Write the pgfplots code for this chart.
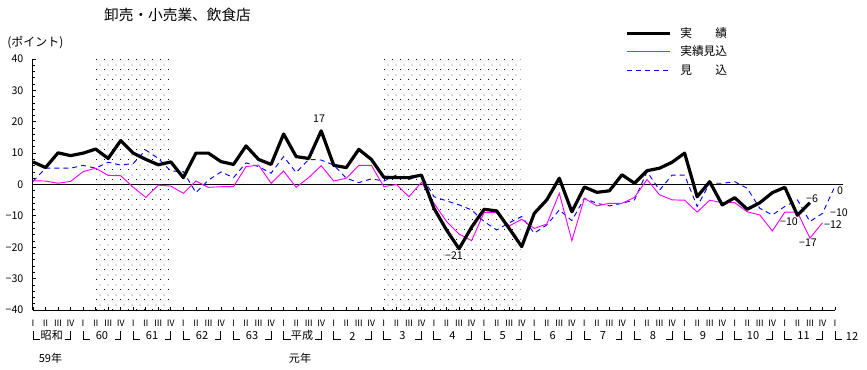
\documentclass[border=0pt]{standalone}
\usepackage{fontspec}
\setmainfont{Noto Sans CJK JP}
\usepackage{pgfplots}
\pgfplotsset{compat=1.18}
\usetikzlibrary{patterns.meta}
\tikzdeclarepattern{name=sdots, type=uncolored, bottom left={(0pt,0pt)}, top right={(6pt,7.5pt)}, tile size={(6pt,7.5pt)},
 code={\fill (0pt,0pt) rectangle (0.75pt,0.75pt); \fill (3pt,3.75pt) rectangle (3.75pt,4.5pt);}}
\definecolor{mag}{RGB}{255,0,255}
\definecolor{blu}{RGB}{0,0,255}
\begin{document}
\begin{tikzpicture}
\path[use as bounding box] (0,0) rectangle (650.25pt,-276.75pt);
\begin{axis}[
 at={(24.75pt,-232.5pt)}, anchor=south west,
 scale only axis, width=601.5pt, height=188.25pt,
 xmin=0, xmax=64, ymin=-40, ymax=40,
 axis x line=bottom, axis y line=left,
 axis line style={-, line width=0.75pt},
 clip=false,
 tick align=inside,
 xtick={0,...,64},
 xticklabels={Ⅰ,Ⅱ,Ⅲ,Ⅳ,Ⅰ,Ⅱ,Ⅲ,Ⅳ,Ⅰ,Ⅱ,Ⅲ,Ⅳ,Ⅰ,Ⅱ,Ⅲ,Ⅳ,Ⅰ,Ⅱ,Ⅲ,Ⅳ,Ⅰ,Ⅱ,Ⅲ,Ⅳ,Ⅰ,Ⅱ,Ⅲ,Ⅳ,Ⅰ,Ⅱ,Ⅲ,Ⅳ,Ⅰ,Ⅱ,Ⅲ,Ⅳ,Ⅰ,Ⅱ,Ⅲ,Ⅳ,Ⅰ,Ⅱ,Ⅲ,Ⅳ,Ⅰ,Ⅱ,Ⅲ,Ⅳ,Ⅰ,Ⅱ,Ⅲ,Ⅳ,Ⅰ,Ⅱ,Ⅲ,Ⅳ,Ⅰ,Ⅱ,Ⅲ,Ⅳ,Ⅰ,Ⅱ,Ⅲ,Ⅳ,Ⅰ},
 xticklabel style={font=\fontsize{6.6}{7}\selectfont, inner sep=0pt, anchor=north, yshift=-7.5pt},
 ytick={-40,-30,...,40},
 yticklabels={−40,−30,−20,−10,0,10,20,30,40},
 yticklabel style={font=\fontsize{8}{9}\selectfont, inner sep=0pt, anchor=east, xshift=-7pt},
 minor y tick num=4,
 major tick length=2.5pt,
 minor tick length=1.2pt,
 every tick/.style={black, line width=0.6pt},
]
\fill[pattern=sdots, pattern color=black] (axis cs:4.95,-40) rectangle (axis cs:10.9,40);
\fill[pattern=sdots, pattern color=black] (axis cs:27.9,-40) rectangle (axis cs:38.9,40);
\draw[black, line width=0.8pt] (axis cs:0,0) -- (axis cs:64.6,0);
% 見込
\addplot[blu, line width=0.7pt, dash pattern=on 3.75pt off 3pt] coordinates {
(0,1) (1,5.2) (2,5.2) (3,5.2) (4,6.1) (5,5.2) (6,7.1) (7,6.2) (8,6.7) (9,11)
(10,8.3) (11,4.3) (12,4.1) (13,-2.6) (14,1.4) (15,4) (16,2.2) (17,6.9) (18,5.7) (19,3.6)
(20,8.9) (21,3.8) (22,8) (23,7.8) (24,6.2) (25,2) (26,0.6) (27,1.8) (28,1.1) (29,3)
(30,1.6) (31,3) (32,-3.9) (33,-5.2) (34,-6.5) (35,-8.1) (36,-11.8) (37,-14.5) (38,-12.2) (39,-10.2)
(40,-15.5) (41,-12.9) (42,-8.1) (43,-11.5) (44,-4.4) (45,-6) (46,-6.8) (47,-6) (48,-4.9) (49,4.1)
(50,-1.8) (51,3) (52,3) (53,-7) (54,0.4) (55,0.4) (56,0.9) (57,-1.2) (58,-7.6) (59,-9.7)
(60,-7) (61,-4.9) (62,-11.8) (63,-9.2) (64,-0.5)};
% 実績見込
\addplot[mag, line width=0.7pt] coordinates {
(0,1.2) (1,1.1) (2,0.4) (3,1) (4,4.1) (5,5.2) (6,2.9) (7,2.8) (8,-0.9) (9,-4.1)
(10,-0.2) (11,-0.5) (12,-2.8) (13,1.1) (14,-0.9) (15,-0.7) (16,-0.7) (17,5.7) (18,6.2) (19,0.4)
(20,4.3) (21,-0.9) (22,2.2) (23,6) (24,1.1) (25,2) (26,6.1) (27,6.1) (28,-0.7) (29,0)
(30,-3.9) (31,0.7) (32,-6) (33,-11.8) (34,-15.8) (35,-17.9) (36,-8.9) (37,-9) (38,-13.2) (39,-11.1)
(40,-14) (41,-12.6) (42,-2.8) (43,-17.9) (44,-4.4) (45,-6.8) (46,-6) (47,-6) (48,-4.1) (49,1.6)
(50,-3.3) (51,-4.9) (52,-5) (53,-8.8) (54,-5) (55,-5.8) (56,-5.8) (57,-8.7) (58,-9.7) (59,-14.8)
(60,-8.8) (61,-8.8) (62,-17.1) (63,-12.2)};
% 実績
\addplot[black, line width=2.4pt, line join=round] coordinates {
(0,7.2) (1,5.4) (2,10.1) (3,9.2) (4,10) (5,11.3) (6,8.3) (7,14) (8,10) (9,8)
(10,6.3) (11,7.2) (12,2.2) (13,10) (14,10) (15,7.3) (16,6.4) (17,12.3) (18,8) (19,6.4)
(20,16.1) (21,8.9) (22,8.3) (23,17.1) (24,6.1) (25,5.4) (26,11.2) (27,8) (28,2.3) (29,2.2)
(30,2.2) (31,3) (32,-7.6) (33,-14.5) (34,-20.5) (35,-13.6) (36,-7.9) (37,-8.4) (38,-14) (39,-19.8)
(40,-9.2) (41,-4.9) (42,2) (43,-8.7) (44,-0.8) (45,-2.5) (46,-2) (47,3.1) (48,0.4) (49,4.4)
(50,5.2) (51,7.1) (52,10) (53,-3.9) (54,0.9) (55,-6.5) (56,-4.2) (57,-7.9) (58,-5.8) (59,-2.6)
(60,-0.9) (61,-9.8) (62,-5.8)};
\end{axis}
\begin{scope}[x=0.75pt,y=-0.75pt]
% title and unit
\node[font=\fontsize{11}{12}\selectfont] at (177.5,15) {卸売・小売業、飲食店};
\node[font=\fontsize{9}{10}\selectfont, anchor=west, inner sep=0pt] at (7,43) {(ポイント)};
% data labels
\begin{scope}[every node/.style={font=\fontsize{8}{9}\selectfont, inner sep=0pt}]
\node at (319,119) {17};
\node at (454,256) {−21};
\node at (789,222) {−10};
\node at (812,199) {−6};
\node at (808,243) {−17};
\node at (833,225) {−12};
\node at (839,213) {−10};
\node at (840,191) {0};
\end{scope}
% legend
\draw[black, line width=2.2pt] (627,33.5) -- (670,33.5);
\draw[mag, line width=0.7pt] (627,51) -- (670,51);
\draw[blu, line width=0.7pt, dash pattern=on 3.75pt off 3pt] (627,70) -- (670,70);
\begin{scope}[every node/.style={font=\fontsize{8.8}{10}\selectfont, anchor=west, inner sep=0pt}]
\node at (680,33.5) {実　　績};
\node at (680,51) {実績見込};
\node at (680,70) {見　　込};
\end{scope}
% year brackets
\foreach \k in {0,...,15} {
  \pgfmathsetmacro{\xa}{33+4*\k*12.53}
  \pgfmathsetmacro{\xb}{33+(4*\k+3)*12.53}
  \draw[line width=0.7pt] (\xa,331) -- (\xa,339) -- (\xa+7,339);
  \draw[line width=0.7pt] (\xb-6,339) -- (\xb,339) -- (\xb,331);
}
\draw[line width=0.7pt] (835,331) -- (835,339) -- (842,339);
\begin{scope}[every node/.style={font=\fontsize{8.3}{9}\selectfont, inner sep=0pt}]
\node at (51.8,335) {昭和};
\node at (50.5,358) {59年};
\node at (101.9,336) {60};
\node at (152,336) {61};
\node at (202,336) {62};
\node at (252,336) {63};
\node at (302,335) {平成};
\node at (300,358) {元年};
\node at (352.5,336) {2};
\node at (402.5,336) {3};
\node at (452.5,336) {4};
\node at (502.7,336) {5};
\node at (552.8,336) {6};
\node at (602.9,336) {7};
\node at (653,336) {8};
\node at (703,336) {9};
\node at (753,336) {10};
\node at (803.5,336) {11};
\node at (852,336) {12};
\end{scope}
\end{scope}
\end{tikzpicture}
\end{document}
